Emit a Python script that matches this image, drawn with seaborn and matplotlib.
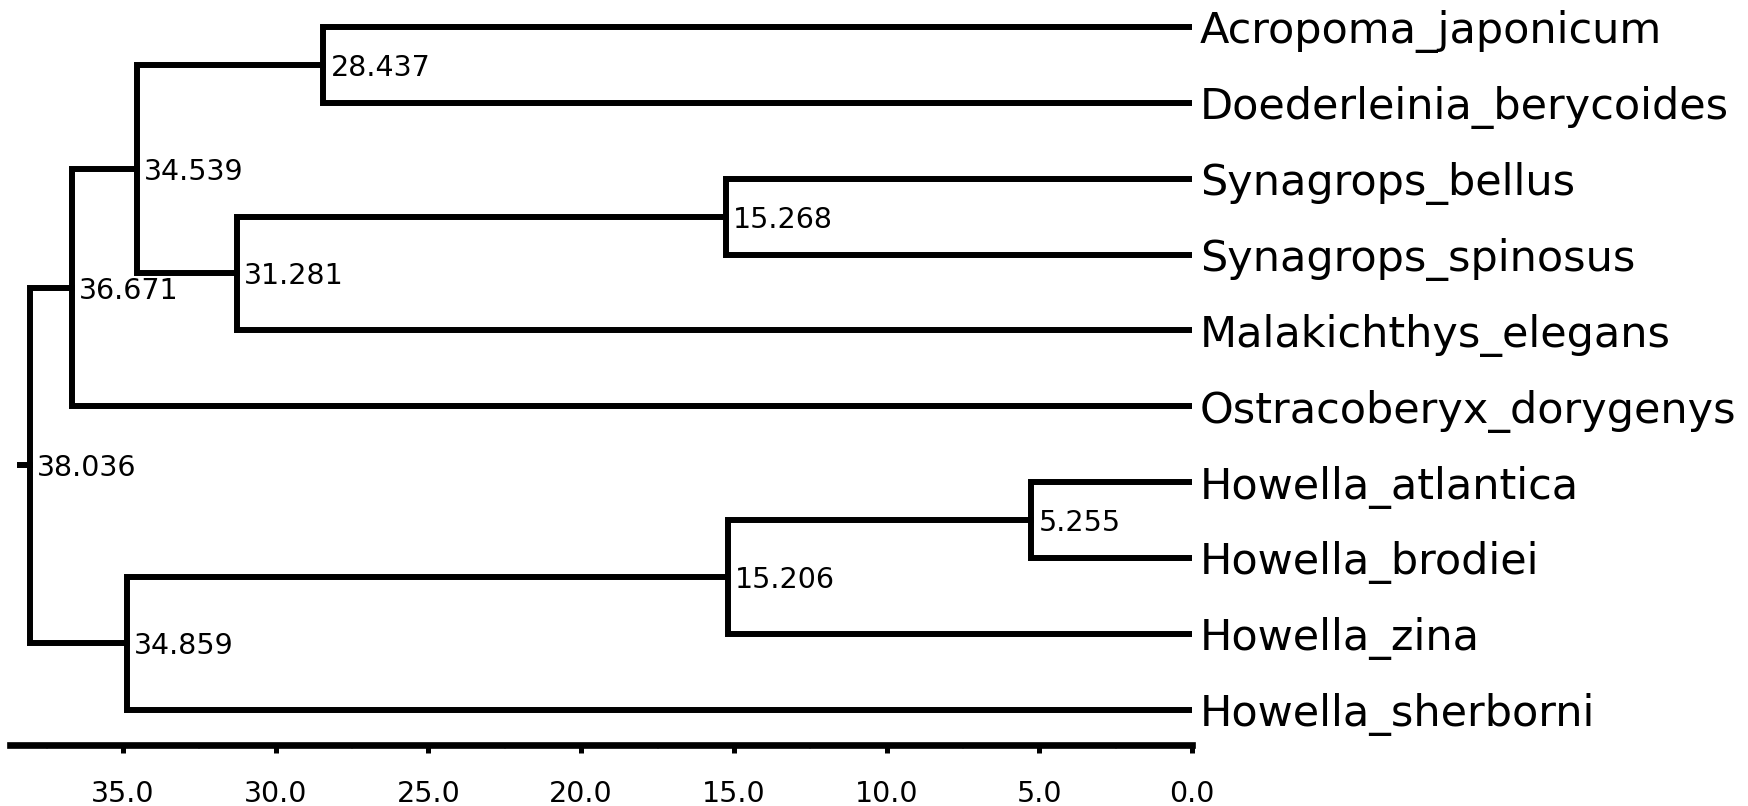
import numpy as np
import pandas as pd
import matplotlib
matplotlib.use("Agg")
import matplotlib.pyplot as plt
import seaborn as sns

# ---- data ----
tip_names = ["Acropoma_japonicum", "Doederleinia_berycoides", "Synagrops_bellus",
             "Synagrops_spinosus", "Malakichthys_elegans", "Ostracoberyx_dorygenys",
             "Howella_atlantica", "Howella_brodiei", "Howella_zina", "Howella_sherborni"]
# internal nodes: id, age, children (tips by name or internal nodes by id)
node_ids = ["n1", "n2", "n3", "n4", "n5", "n6", "n7", "n8", "root"]
node_ages = [28.437, 15.268, 31.281, 34.539, 36.671, 5.255, 15.206, 34.859, 38.036]
node_children = [
    ["Acropoma_japonicum", "Doederleinia_berycoides"],
    ["Synagrops_bellus", "Synagrops_spinosus"],
    ["n2", "Malakichthys_elegans"],
    ["n1", "n3"],
    ["n4", "Ostracoberyx_dorygenys"],
    ["Howella_atlantica", "Howella_brodiei"],
    ["n6", "Howella_zina"],
    ["n7", "Howella_sherborni"],
    ["n5", "n8"],
]
root_edge = 0.35
major_ticks = [35.0, 30.0, 25.0, 20.0, 15.0, 10.0, 5.0, 0.0]
minor_ticks = [37.5, 32.5, 27.5, 22.5, 17.5, 12.5, 7.5, 2.5]

# ---- layout of the tree ----
age = {n: 0.0 for n in tip_names}
ypos = {n: float(i) for i, n in enumerate(tip_names)}
for nid, a in zip(node_ids, node_ages):
    age[nid] = a
children = dict(zip(node_ids, node_children))


def get_y(n):
    if n in ypos:
        return ypos[n]
    y = np.mean([get_y(c) for c in children[n]])
    ypos[n] = y
    return y


for nid in node_ids:
    get_y(nid)

rows = []
seg = 0
for nid in node_ids:
    for c in children[nid]:
        pts = [(age[c], ypos[c]), (age[nid], ypos[c]), (age[nid], ypos[nid])]
        for x, y in pts:
            rows.append({"x": x, "y": y, "seg": seg})
        seg += 1
rows.append({"x": age["root"], "y": ypos["root"], "seg": seg})
rows.append({"x": age["root"] + root_edge, "y": ypos["root"], "seg": seg})
df = pd.DataFrame(rows)

# ---- plot ----
sns.set_style("white")
plt.rcParams["font.family"] = ["DejaVu Sans"]

W, H = 1749, 806
fig = plt.figure(figsize=(W / 100, H / 100), dpi=100)
ax = fig.add_axes([10 / W, 61 / H, 1182 / W, 745 / H])

sns.lineplot(data=df, x="x", y="y", units="seg", estimator=None, sort=False,
             color="black", linewidth=4.3, legend=False, ax=ax,
             solid_capstyle="projecting", solid_joinstyle="miter")

ax.set_xlim(38.70, 0.0)
ax.set_ylim(9.467, -0.356)

for nid in node_ids:
    ax.annotate(f"{age[nid]:.3f}", (age[nid], ypos[nid]), xytext=(5, 0),
                textcoords="offset points", ha="left", va="center_baseline",
                fontsize=20.5, color="black", annotation_clip=False)
for n in tip_names:
    ax.annotate(n, (0.0, ypos[n]), xytext=(5.8, 0), textcoords="offset points",
                ha="left", va="center_baseline", fontsize=31, color="black",
                annotation_clip=False)

ax.set_xticks(major_ticks)
ax.set_xticklabels([f"{t:.1f}" for t in major_ticks])
ax.set_xticks(minor_ticks, minor=True)
ax.tick_params(axis="x", which="major", direction="out", length=5.5, width=3.6,
               pad=20, labelsize=20.5, colors="black", bottom=True)
ax.tick_params(axis="x", which="minor", direction="out", length=3, width=1.5,
               color="0.75", bottom=True)
ax.set_yticks([])
ax.set_xlabel("")
ax.set_ylabel("")
for s in ["left", "top", "right"]:
    ax.spines[s].set_visible(False)
ax.spines["bottom"].set_linewidth(4.8)
ax.spines["bottom"].set_color("black")
ax.patch.set_alpha(0)

fig.savefig("out.png", dpi=100)
